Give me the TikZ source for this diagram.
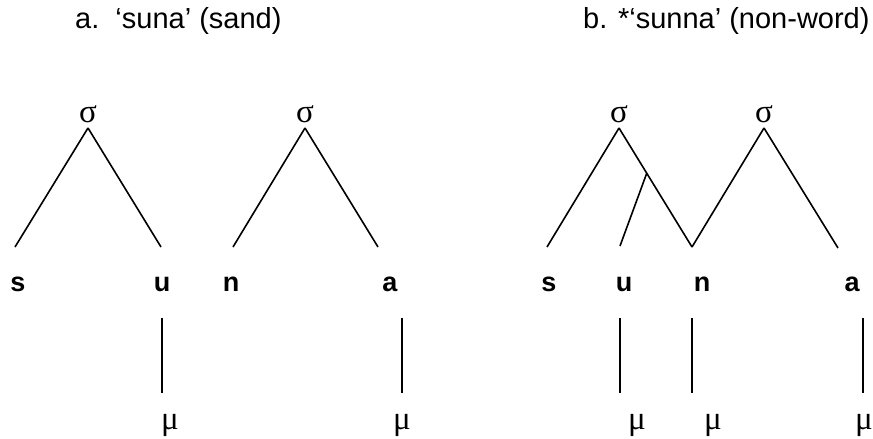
\documentclass[tikz,border=0pt]{standalone}
\usepackage{fontspec}
\setmainfont{Liberation Sans}
\newfontfamily\greekfont{Liberation Serif}
\usetikzlibrary{calc}

\tikzstyle{branch} = [draw, line width=1.6pt, -]
\tikzstyle{syllable} = [inner sep=0pt, anchor=base, font=\greekfont\fontsize{33}{33}\selectfont]
\tikzstyle{segment} = [inner sep=0pt, anchor=base, font=\bfseries\fontsize{27}{27}\selectfont]
\tikzstyle{mora} = [inner sep=0pt, anchor=base, font=\greekfont\fontsize{33}{33}\selectfont]
\tikzstyle{heading} = [inner sep=0pt, anchor=west, font=\fontsize{29}{29}\selectfont]

\begin{document}
\begin{tikzpicture}[x=1pt, y=-1pt]
    \useasboundingbox (0,0) rectangle (873,439);

    % The two headings
    \node[heading] (ha) at (75,21) {a.\ \ ‘suna’ (sand)};
    \node[heading] (hb) at (583,21) {b. *‘sunna’ (non-word)};

    % The syllables
    \foreach \px/\name in {88/a1, 305/a2, 619/b1, 764/b2} {
      \coordinate (\name) at (\px,128);
      \node[syllable] (syl\name) at (\px,122) {σ};
    }

    % The segments and where the branches end
    \foreach \px/\py/\name in {15/247/fs1, 161/247/fu1, 233/247/fn1, 378/247/fa1,
                               547/247/fs2, 620/246/fu2, 692/247/fn2, 838/248/fa2}
      \coordinate (\name) at (\px,\py);
    \foreach \px/\name/\txt in {18/s1/s, 162/u1/u, 231/n1/n, 390/a1/a,
                                549/s2/s, 624/u2/u, 702/n2/n, 852/a2/a}
      \node[segment] (seg\name) at (\px,291) {\txt};

    % Syllable branches
    \foreach \apex/\foot in {a1/fs1, a1/fu1, a2/fn1, a2/fa1, b1/fs2, b1/fn2, b2/fn2, b2/fa2}
      \path[branch] (\apex) -- (\foot);
    \coordinate (join) at ($(b1)!0.38!(fn2)$);
    \path[branch] (fu2) -- (join);

    % The moras
    \foreach \px/\mx/\name in {162/170/u1, 402/402/a1, 620/637/u2, 692/713/n2, 863/864/a2} {
      \coordinate (mtop\name) at (\px,318);
      \coordinate (mbot\name) at (\px,393);
      \path[branch] (mtop\name) -- (mbot\name);
      \node[mora] (mu\name) at (\mx,429) {μ};
    }

\end{tikzpicture}
\end{document}
